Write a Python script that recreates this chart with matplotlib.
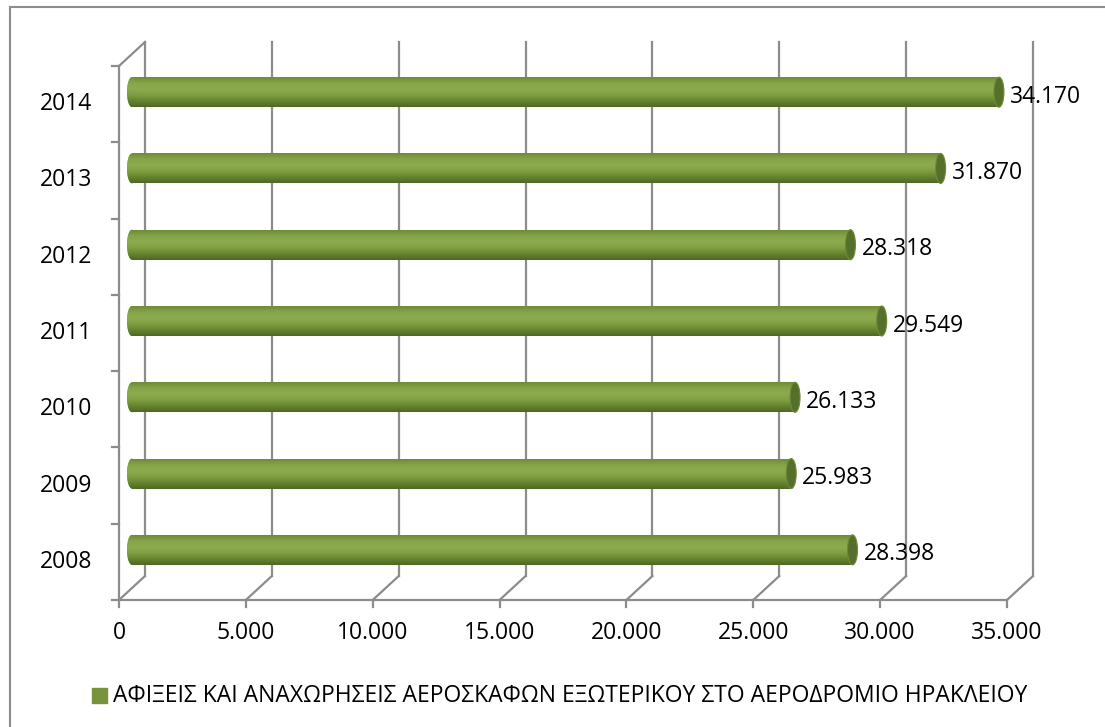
import numpy as np
import matplotlib.pyplot as plt
from matplotlib.patches import Ellipse
from matplotlib.colors import LinearSegmentedColormap

plt.rcParams['font.family'] = ['Open Sans', 'DejaVu Sans']

years = ['2008', '2009', '2010', '2011', '2012', '2013', '2014']
flights = [28398, 25983, 26133, 29549, 28318, 31870, 34170]
xticks = [0, 5000, 10000, 15000, 20000, 25000, 30000, 35000]
xticklabels = ['0', '5.000', '10.000', '15.000', '20.000', '25.000', '30.000', '35.000']
legend_text = 'ΑΦΙΞΕΙΣ ΚΑΙ ΑΝΑΧΩΡΗΣΕΙΣ ΑΕΡΟΣΚΑΦΩΝ ΕΞΩΤΕΡΙΚΟΥ ΣΤΟ ΑΕΡΟΔΡΟΜΙΟ ΗΡΑΚΛΕΙΟΥ'

W, H = 1105, 727
fs = 16.5
fig = plt.figure(figsize=(W / 100, H / 100), dpi=100)
# front plane of the 3d box (pixels)
x0, x1, ytop, ybot = 119, 1007, 66, 600
ax = fig.add_axes([x0 / W, (H - ybot) / H, (x1 - x0) / W, (ybot - ytop) / H])
xmax = 35000
ax.set_xlim(0, xmax)
ax.set_ylim(-0.5, 6.5)
ax.axis('off')

pxx = xmax / (x1 - x0)           # data units per pixel in x
pxy = 7.0 / (ybot - ytop)        # data units per pixel in y
dx, dy = 26 * pxx, 24 * pxy      # depth offset

gc = '#8c8c8c'
lw = 1.6
# back wall gridlines + floor
for v, lab in zip(xticks, xticklabels):
    ax.plot([v + dx, v + dx], [-0.5 + dy, 6.5 + dy], color=gc, lw=lw, clip_on=False)
    ax.plot([v, v + dx], [-0.5, -0.5 + dy], color=gc, lw=lw, clip_on=False)
    ax.plot([v, v], [-0.5, -0.5 - 7 * pxy], color=gc, lw=lw, clip_on=False)
    ax.text(v, -0.5 - 33 * pxy, lab, ha='center', va='center', fontsize=fs)
ax.plot([0, xmax], [-0.5, -0.5], color=gc, lw=lw, clip_on=False)
# left wall
ax.plot([0, 0], [-0.5, 6.5], color=gc, lw=lw, clip_on=False)
ax.plot([0, dx], [6.5, 6.5 + dy], color=gc, lw=lw, clip_on=False)
for k in range(8):
    ax.plot([0, -7 * pxx], [k - 0.5, k - 0.5], color=gc, lw=lw, clip_on=False)

# cylinders at mid depth
bh = 30 * pxy
cw = 10 * pxx
ox, oy = dx / 2, dy / 2
ypos = np.arange(len(years)) + oy
cmap = LinearSegmentedColormap.from_list(
    'cyl', ['#6e8c38', '#86a448', '#8dab4e', '#809f42', '#66842f', '#4e6826'])
grad = np.linspace(0, 1, 64).reshape(-1, 1)
bars = ax.barh(ypos, flights, left=ox, height=bh, color='#7f9f42', lw=0)
for b, v, y in zip(bars, flights, ypos):
    lcap = Ellipse((ox, y), cw, bh, color='#7f9f42', lw=0)
    ax.add_patch(lcap)
    im = ax.imshow(grad, cmap=cmap, aspect='auto', origin='upper',
                   extent=[ox - cw / 2, ox + v, y - bh / 2, y + bh / 2], zorder=3)
    im.set_clip_path(b)
    im2 = ax.imshow(grad, cmap=cmap, aspect='auto', origin='upper',
                    extent=[ox - cw / 2, ox + cw / 2, y - bh / 2, y + bh / 2], zorder=3)
    im2.set_clip_path(lcap)
    ax.add_patch(Ellipse((ox + v, y), cw, bh, facecolor='#566f2b', edgecolor='#6d8c38',
                         lw=0.8, zorder=4))
    ax.text(ox + v + cw / 2 + 6 * pxx, y - 4.5 * pxy, '{:,}'.format(v).replace(',', '.'),
            ha='left', va='center', fontsize=fs, zorder=5)

for k, yr in enumerate(years):
    ax.text(-27 * pxx, k, yr, ha='right', va='center', fontsize=fs)

ax.set_xlim(0, xmax)
ax.set_ylim(-0.5, 6.5)

# legend
fig.patches.append(plt.Rectangle((92 / W, (H - 703) / H), 15 / W, 15 / H,
                                 transform=fig.transFigure, color='#77933c'))
fig.text(113 / W, (H - 695.5) / H, legend_text, ha='left', va='center', fontsize=fs)

# chart border
fig.add_artist(plt.Line2D([9.5 / W, 9.5 / W], [0, (H - 6.5) / H], color='#8c8c8c', lw=1.5))
fig.add_artist(plt.Line2D([9.5 / W, 1], [(H - 6.5) / H, (H - 6.5) / H], color='#8c8c8c', lw=1.5))

fig.savefig('out.png', dpi=100)
